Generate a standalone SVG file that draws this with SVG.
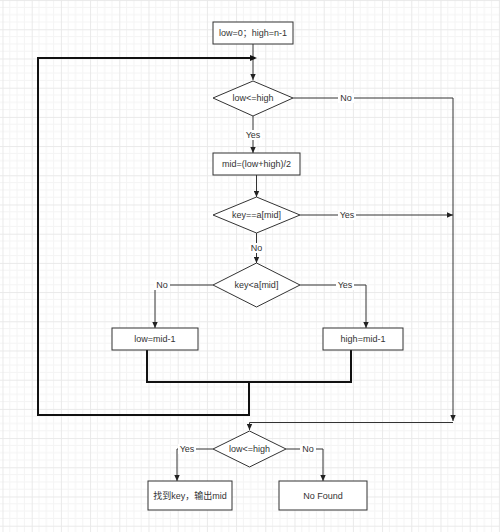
<svg xmlns="http://www.w3.org/2000/svg" width="500" height="532" viewBox="0 0 500 532">
<defs>
<pattern id="grid" x="2.5" y="0.1" width="29.2" height="29.2" patternUnits="userSpaceOnUse">
<path d="M7.3,0V29.2M14.6,0V29.2M21.9,0V29.2M0,7.3H29.2M0,14.6H29.2M0,21.9H29.2" stroke="#f4f4f4" stroke-width="1" fill="none"/>
<path d="M0.5,0V29.2M0,0.5H29.2" stroke="#e9e9e9" stroke-width="1" fill="none"/>
</pattern>
<marker id="arr" markerUnits="userSpaceOnUse" markerWidth="7" markerHeight="6" refX="6" refY="3" orient="auto">
<path d="M0,0.3 L6,3 L0,5.7 z" fill="#222"/>
</marker>
</defs>
<style>
.box{fill:#fff;stroke:#333;stroke-width:1}
.t{font-family:"Liberation Sans","Noto Sans CJK SC",Arial,sans-serif;font-size:9px;fill:#333;text-anchor:middle;dominant-baseline:central}
.c{fill:none;stroke:#333;stroke-width:1}
.loop{fill:none;stroke:#111;stroke-width:2}
.lb{fill:#fff}
</style>
<rect width="500" height="532" fill="#fff"/>
<rect width="500" height="532" fill="url(#grid)"/>

<g id="connectors">
<path class="c" d="M253,44 V80" marker-end="url(#arr)"/>
<path class="c" d="M293,98 H453 V421" marker-end="url(#arr)"/>
<path class="c" d="M253,116 V153" marker-end="url(#arr)"/>
<path class="c" d="M256.5,175 V197" marker-end="url(#arr)"/>
<path class="c" d="M300,215 H453" marker-end="url(#arr)"/>
<path class="c" d="M256.5,233 V263" marker-end="url(#arr)"/>
<path class="c" d="M213,285 H155 V328" marker-end="url(#arr)"/>
<path class="c" d="M300,285 H366 V328" marker-end="url(#arr)"/>
<path class="c" d="M453,422.5 H249.5 V430" marker-end="url(#arr)"/>
<path class="c" d="M213,449 H177 V481" marker-end="url(#arr)"/>
<path class="c" d="M286,449 H323 V481" marker-end="url(#arr)"/>
<path class="loop" d="M147,350 V382 H351 V350"/>
<path class="loop" d="M249,382 V415 H38 V58 H250"/>
<path d="M250,55 L257,58 L250,61 z" fill="#111"/>
<rect class="lb" x="338" y="93" width="16" height="10"/>
<text class="t" x="346" y="98">No</text>
<rect class="lb" x="244" y="130" width="18" height="10"/>
<text class="t" x="253" y="135">Yes</text>
<rect class="lb" x="338" y="210" width="18" height="10"/>
<text class="t" x="347" y="215">Yes</text>
<rect class="lb" x="248.5" y="243" width="16" height="10"/>
<text class="t" x="256.5" y="248">No</text>
<rect class="lb" x="154" y="280" width="16" height="10"/>
<text class="t" x="162" y="285">No</text>
<rect class="lb" x="336" y="280" width="18" height="10"/>
<text class="t" x="345" y="285">Yes</text>
<rect class="lb" x="178" y="444" width="18" height="10"/>
<text class="t" x="187" y="449">Yes</text>
<rect class="lb" x="300" y="444" width="16" height="10"/>
<text class="t" x="308" y="449">No</text>
</g>

<g id="init">
<rect class="box" x="213" y="22" width="80" height="22"/>
<text class="t" x="253" y="33">low=0；high=n-1</text>
</g>
<g id="cond1">
<polygon class="box" points="253,81 293,98 253,116 213,98"/>
<text class="t" x="253" y="98">low&lt;=high</text>
</g>
<g id="mid">
<rect class="box" x="213" y="153" width="87" height="22"/>
<text class="t" x="256.5" y="164">mid=(low+high)/2</text>
</g>
<g id="cond2">
<polygon class="box" points="256.5,197 300,215 256.5,233 213,215"/>
<text class="t" x="256.5" y="215">key==a[mid]</text>
</g>
<g id="cond3">
<polygon class="box" points="256.5,263 300,285 256.5,307 213,285"/>
<text class="t" x="256.5" y="285">key&lt;a[mid]</text>
</g>
<g id="lowbox">
<rect class="box" x="112" y="328" width="86" height="22"/>
<text class="t" x="155" y="339">low=mid-1</text>
</g>
<g id="highbox">
<rect class="box" x="323" y="328" width="80" height="22"/>
<text class="t" x="363" y="339">high=mid-1</text>
</g>
<g id="cond4">
<polygon class="box" points="249.5,431 286,449 249.5,467 213,449"/>
<text class="t" x="249.5" y="449">low&lt;=high</text>
</g>
<g id="found">
<rect class="box" x="148" y="481" width="84" height="29"/>
<text class="t" x="190" y="495.5">找到key，输出mid</text>
</g>
<g id="notfound">
<rect class="box" x="279" y="481" width="88" height="29"/>
<text class="t" x="323" y="495.5">No Found</text>
</g>
</svg>
